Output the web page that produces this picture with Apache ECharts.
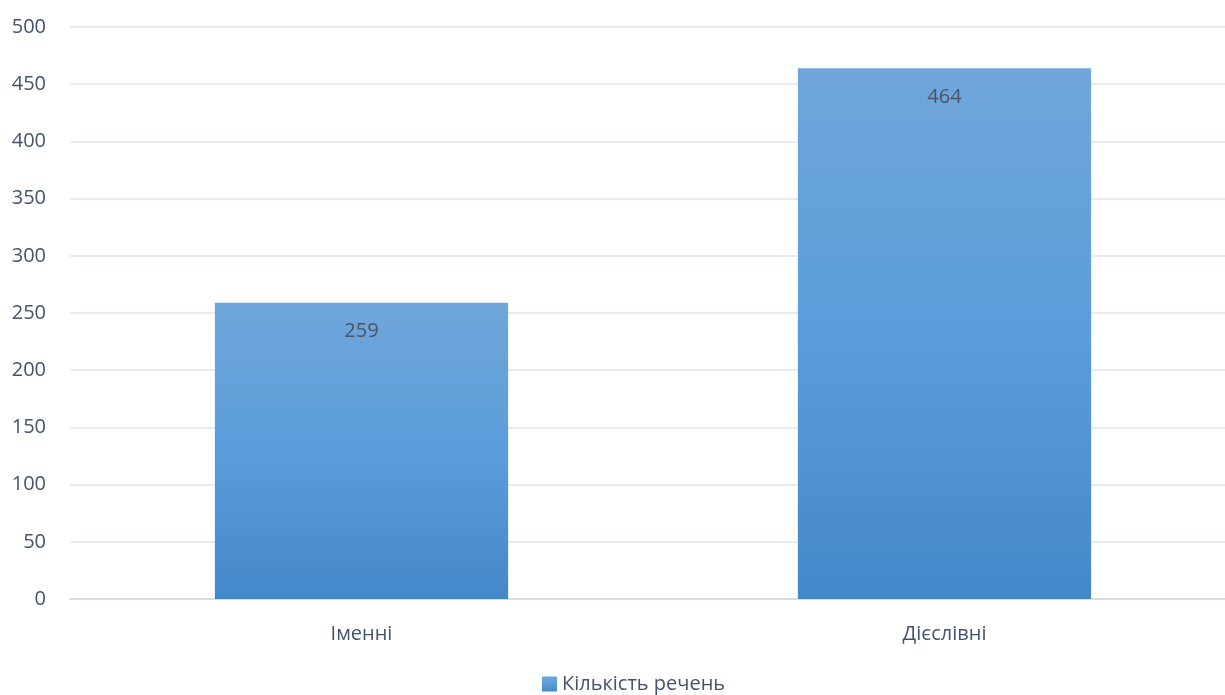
<!DOCTYPE html>
<html><head><meta charset="utf-8">
<script src="https://cdn.jsdelivr.net/npm/echarts@6/dist/echarts.min.js"></script>
<style>html,body{margin:0;padding:0;background:#fff;overflow:hidden}#c{width:1236px;height:695px}</style>
</head><body><div id="c"></div>
<script>
const categories = ['Іменні', 'Дієслівні'];
const values = [259, 464];
const seriesName = 'Кількість речень';
const yTicks = {min: 0, max: 500, interval: 50};

const chart = echarts.init(document.getElementById('c'));
const txt = '#44546a';
chart.setOption({
  animation: false,
  textStyle: {fontFamily: 'Open Sans'},
  grid: {left: 70, top: 27, right: 0, bottom: 96, containLabel: false},
  legend: {
    data: [seriesName], top: 669, left: 537,
    itemWidth: 15, itemHeight: 15, itemGap: 6,
    icon: 'rect',
    textStyle: {color: txt, fontSize: 20, fontFamily: 'Open Sans'}
  },
  xAxis: {
    type: 'category', data: categories,
    axisTick: {show: false},
    axisLine: {show: true, lineStyle: {color: '#d9dde3', width: 2}},
    axisLabel: {color: txt, fontSize: 20, margin: 25, fontFamily: 'Open Sans'}
  },
  yAxis: {
    type: 'value', min: yTicks.min, max: yTicks.max, interval: yTicks.interval,
    axisLine: {show: false}, axisTick: {show: false},
    splitLine: {lineStyle: {color: '#e1e5eb', width: 1.5}},
    axisLabel: {color: txt, fontSize: 20, margin: 24, fontFamily: 'Open Sans'}
  },
  series: [{
    name: seriesName, type: 'bar', data: values, barWidth: '50.3%',
    itemStyle: {color: new echarts.graphic.LinearGradient(0, 0, 0, 1, [
      {offset: 0, color: '#70a6da'}, {offset: 0.5, color: '#5a9ddb'}, {offset: 1, color: '#4388c8'}
    ])},
    label: {show: true, position: 'insideTop', distance: 19, color: '#4a5565', fontSize: 20, fontFamily: 'Open Sans'}
  }]
});
</script></body></html>
